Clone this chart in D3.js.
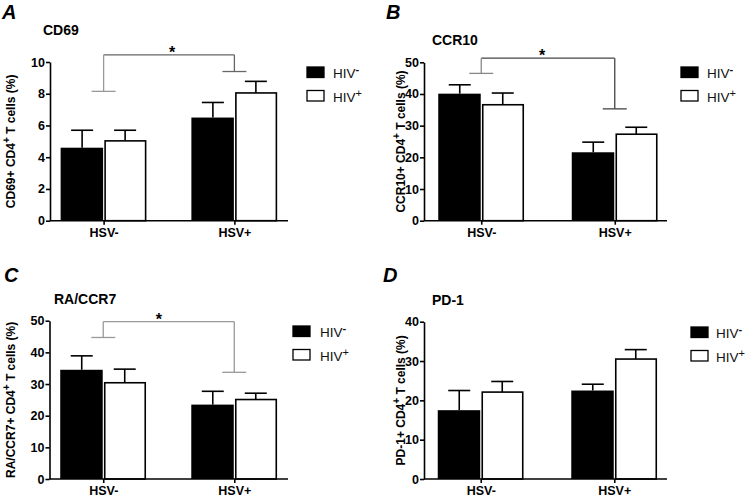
<!DOCTYPE html>
<html>
<head>
<meta charset="utf-8">
<script src="https://cdn.jsdelivr.net/npm/d3@7/dist/d3.min.js"></script>
<style>
  html, body { margin: 0; padding: 0; background: #fff; }
  svg { display: block; font-family: "Liberation Sans", Arial, sans-serif; }
</style>
</head>
<body>
<svg id="chart" width="748" height="498"></svg>
<script>
// ---------------- DATA ----------------
const categories = ["HSV-", "HSV+"];
const seriesNames = ["HIV-", "HIV+"];
const seriesSup = ["-", "+"];

const panelLetters = ["A", "B", "C", "D"];
const panelTitles = ["CD69", "CCR10", "RA/CCR7", "PD-1"];
const yLabelPrefix = ["CD69+ CD4", "CCR10+ CD4", "RA/CCR7+ CD4", "PD-1+ CD4"];
const yMax = [10, 50, 50, 40];
const yTickStep = [2, 10, 10, 10];

// means per category (HSV-, HSV+) for each series
const cd69HivNeg = [4.6, 6.5];
const cd69HivPos = [5.03, 8.05];
const cd69HivNegSem = [1.1, 0.95];
const cd69HivPosSem = [0.67, 0.73];

const ccr10HivNeg = [40.1, 21.6];
const ccr10HivPos = [36.6, 27.3];
const ccr10HivNegSem = [2.8, 3.2];
const ccr10HivPosSem = [3.7, 2.2];

const raccr7HivNeg = [34.5, 23.5];
const raccr7HivPos = [30.4, 25.1];
const raccr7HivNegSem = [4.4, 4.2];
const raccr7HivPosSem = [4.3, 2.0];

const pd1HivNeg = [17.5, 22.5];
const pd1HivPos = [22.1, 30.5];
const pd1HivNegSem = [5.0, 1.6];
const pd1HivPosSem = [2.7, 2.4];

// significance brackets: [top value, left leg end, right leg end], null = none
const cd69Sig = [10.45, 8.15, 9.4];
const ccr10Sig = [51.3, 46.5, 35.3];
const raccr7Sig = [49.7, 44.7, 33.7];
const pd1Sig = null;

// ---------------- LAYOUT ----------------
const layouts = [
  { left: 50, right: 288, top: 62, bottom: 220.7, pad: 0.41, shift: 0,
    letter: [2, 18.5], title: [43, 34.5], legend: [307, 67], legendText: 333, yLabelX: 15,
    starDx: 3, legColor: "#999", topColor: "#666" },
  { left: 424, right: 667, top: 62.3, bottom: 220.7, pad: 0.41, shift: 2.5,
    letter: [386, 18.5], title: [432, 44.5], legend: [681, 67], legendText: 707, yLabelX: 405,
    starDx: -6, legColor: "#888", topColor: "#444" },
  { left: 49.5, right: 288, top: 320.7, bottom: 479, pad: 0.41, shift: 0,
    letter: [4, 282], title: [54, 304], legend: [293, 326], legendText: 320, yLabelX: 15,
    starDx: -10, legColor: "#999", topColor: "#999" },
  { left: 424, right: 667, top: 321.7, bottom: 479, pad: 0.41, shift: 2,
    letter: [383, 282], title: [432, 305], legend: [691, 327], legendText: 716, yLabelX: 405,
    starDx: 0, legColor: "#999", topColor: "#999" }
];

const panelData = [
  { neg: cd69HivNeg, pos: cd69HivPos, negSem: cd69HivNegSem, posSem: cd69HivPosSem, sig: cd69Sig },
  { neg: ccr10HivNeg, pos: ccr10HivPos, negSem: ccr10HivNegSem, posSem: ccr10HivPosSem, sig: ccr10Sig },
  { neg: raccr7HivNeg, pos: raccr7HivPos, negSem: raccr7HivNegSem, posSem: raccr7HivPosSem, sig: raccr7Sig },
  { neg: pd1HivNeg, pos: pd1HivPos, negSem: pd1HivNegSem, posSem: pd1HivPosSem, sig: pd1Sig }
];

const svg = d3.select("#chart");
const barW = 43;
const capW = 22;

panelData.forEach((pd, i) => {
  const L = layouts[i];
  const g = svg.append("g");

  const x = d3.scalePoint().domain(categories).range([L.left + L.shift, L.right + L.shift]).padding(L.pad);
  const xs = d3.scaleBand().domain(seriesNames).range([-barW, barW]).paddingInner(0);
  const y = d3.scaleLinear().domain([0, yMax[i]]).range([L.bottom, L.top]);

  const rows = [];
  categories.forEach((c, ci) => {
    rows.push({ cat: c, ser: seriesNames[0], v: pd.neg[ci], e: pd.negSem[ci] });
    rows.push({ cat: c, ser: seriesNames[1], v: pd.pos[ci], e: pd.posSem[ci] });
  });

  // error bars (upper only)
  const eb = g.append("g").attr("stroke", "#000").attr("stroke-width", 1.6);
  rows.forEach(r => {
    const cx = x(r.cat) + xs(r.ser) + xs.bandwidth() / 2;
    eb.append("line").attr("x1", cx).attr("x2", cx).attr("y1", y(r.v)).attr("y2", y(r.v + r.e));
    eb.append("line").attr("x1", cx - capW / 2).attr("x2", cx + capW / 2)
      .attr("y1", y(r.v + r.e)).attr("y2", y(r.v + r.e));
  });

  // bars
  g.append("g").selectAll("rect").data(rows).join("rect")
    .attr("x", d => x(d.cat) + xs(d.ser) + (d.ser === seriesNames[1] ? 1.5 : 0))
    .attr("width", d => xs.bandwidth() - (d.ser === seriesNames[1] ? 2.5 : 0.5))
    .attr("y", d => y(d.v))
    .attr("height", d => y(0) - y(d.v))
    .attr("fill", d => d.ser === seriesNames[0] ? "#000" : "#fff")
    .attr("stroke", "#000")
    .attr("stroke-width", d => d.ser === seriesNames[0] ? 0 : 1.6);

  // axes
  const ticks = d3.range(0, yMax[i] + 0.001, yTickStep[i]);
  const yAx = g.append("g").attr("transform", `translate(${L.left},0)`)
    .call(d3.axisLeft(y).tickValues(ticks).tickFormat(d3.format("d")).tickSize(4).tickSizeOuter(0).tickPadding(1));
  const xAx = g.append("g").attr("transform", `translate(0,${L.bottom})`)
    .call(d3.axisBottom(x).tickSize(4).tickSizeOuter(0).tickPadding(3));
  xAx.select(".domain").attr("d", `M${L.left},0H${L.right}`);
  [yAx, xAx].forEach(a => {
    a.selectAll("path, line").attr("stroke", "#000").attr("stroke-width", 1.6);
    a.selectAll("text").attr("fill", "#000").attr("font-size", 12.5).attr("font-weight", "bold")
      .attr("font-family", "'Liberation Sans', Arial, sans-serif");
  });

  // significance bracket
  if (pd.sig) {
    const [topV, lV, rV] = pd.sig;
    const xl = x(categories[0]), xr = x(categories[1]);
    const sg = g.append("g").attr("fill", "none").attr("stroke-width", 1.3);
    sg.append("line").attr("x1", xl).attr("x2", xr).attr("y1", y(topV)).attr("y2", y(topV)).attr("stroke", L.topColor);
    sg.append("line").attr("x1", xl).attr("x2", xl).attr("y1", y(topV)).attr("y2", y(lV)).attr("stroke", L.legColor);
    sg.append("line").attr("x1", xl - 12).attr("x2", xl + 12).attr("y1", y(lV)).attr("y2", y(lV)).attr("stroke", L.legColor);
    sg.append("line").attr("x1", xr).attr("x2", xr).attr("y1", y(topV)).attr("y2", y(rV)).attr("stroke", L.topColor);
    sg.append("line").attr("x1", xr - 12).attr("x2", xr + 12).attr("y1", y(rV)).attr("y2", y(rV)).attr("stroke", L.topColor);
    g.append("text").attr("x", (xl + xr) / 2 + L.starDx).attr("y", y(topV) + 3)
      .attr("text-anchor", "middle").attr("font-size", 16).attr("font-weight", "bold").text("*");
  }

  // panel letter
  g.append("text").attr("x", L.letter[0]).attr("y", L.letter[1])
    .attr("font-size", 20).attr("font-weight", "bold").attr("font-style", "italic").text(panelLetters[i]);
  // title
  g.append("text").attr("x", L.title[0]).attr("y", L.title[1])
    .attr("font-size", 14).attr("font-weight", "bold").text(panelTitles[i]);

  // y label
  const yl = g.append("text")
    .attr("transform", `translate(${L.yLabelX},${(L.top + L.bottom) / 2}) rotate(-90)`)
    .attr("text-anchor", "middle").attr("font-size", 12).attr("font-weight", "bold");
  yl.append("tspan").text(yLabelPrefix[i]);
  yl.append("tspan").attr("dy", -5).attr("font-size", 10).text("+");
  yl.append("tspan").attr("dy", 5).text(" T cells (%)");

  // legend
  seriesNames.forEach((s, si) => {
    const ly = L.legend[1] + si * 23.5;
    g.append("rect").attr("x", L.legend[0]).attr("y", ly).attr("width", 17).attr("height", 10.5)
      .attr("fill", si === 0 ? "#000" : "#fff").attr("stroke", "#000").attr("stroke-width", 1.3);
    const t = g.append("text").attr("x", L.legendText).attr("y", ly + 11)
      .attr("font-size", 13.5).attr("fill", "#111");
    t.append("tspan").text("HIV");
    t.append("tspan").attr("dy", -5).attr("font-size", 11).attr("font-weight", si === 0 ? "bold" : "normal")
      .text(seriesSup[si]);
  });
});
</script>
</body>
</html>
